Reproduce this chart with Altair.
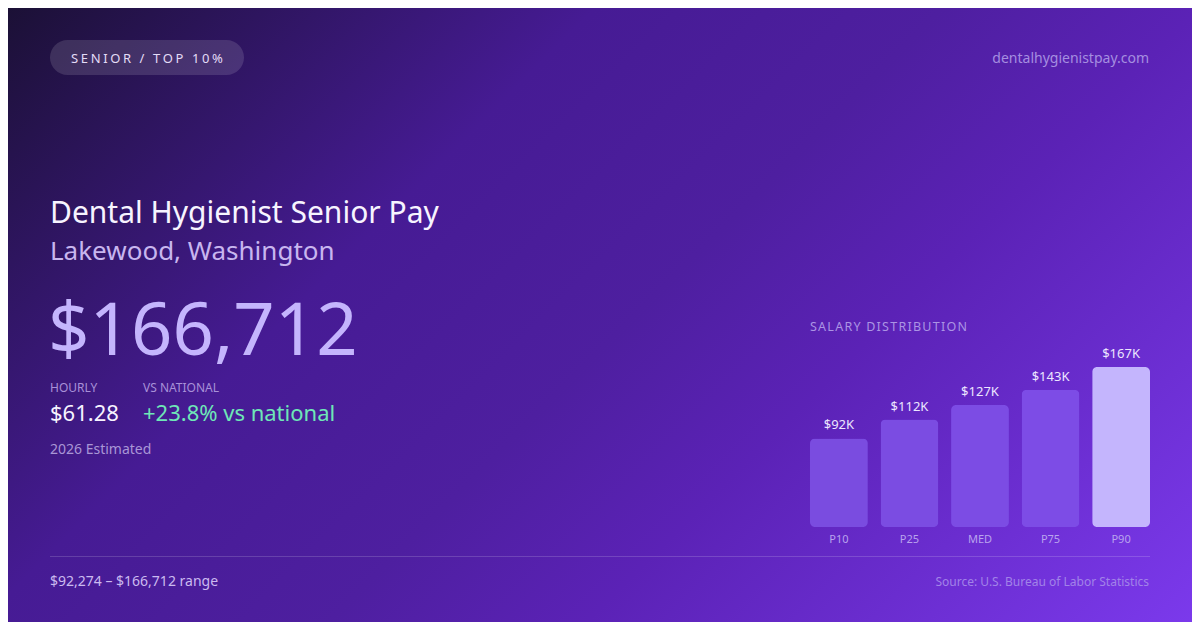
import altair as alt
import pandas as pd

# ---- data ----
percentiles = ["P10", "P25", "MED", "P75", "P90"]
salary_k = [92.274, 112, 127, 143, 166.712]
bar_labels = ["$92K", "$112K", "$127K", "$143K", "$167K"]

badge_text = "SENIOR / TOP 10%"
site_text = "dentalhygienistpay.com"
title_text = "Dental Hygienist Senior Pay"
location_text = "Lakewood, Washington"
headline_value = "$166,712"
hourly_label = "HOURLY"
hourly_value = "$61.28"
national_label = "VS NATIONAL"
national_value = "+23.8% vs national"
estimate_text = "2026 Estimated"
dist_title = "SALARY DISTRIBUTION"
range_text = "$92,274 \u2013 $166,712 range"
source_text = "Source: U.S. Bureau of Labor Statistics"

W, H = 1184, 614
OFF = 8  # page margin offset
FONT = "Noto Sans"


def spaced(s, sep="\u200a"):
    return sep.join(list(s))


one = pd.DataFrame({"k": [0]})
bars_df = pd.DataFrame({"pctl": percentiles, "salary": salary_k, "label": bar_labels})


def px(v):
    return v - OFF


def text_layer(txt, x, y, size, color, align="left", weight="normal", opacity=1.0):
    return alt.Chart(one).mark_text(
        text=txt, align=align, baseline="alphabetic", font=FONT, fontSize=size,
        fontWeight=weight, color=color, opacity=opacity,
    ).encode(x=alt.value(px(x)), y=alt.value(px(y)))


# diagonal (45 deg in pixel space) gradient over the full 1200x630 canvas
bg = alt.Chart(one).mark_rect(
    fill=alt.LinearGradient(
        gradient="linear",
        stops=[
            alt.GradientStop(color="#1a1033", offset=0),
            alt.GradientStop(color="#461b94", offset=0.33),
            alt.GradientStop(color="#4e1fa0", offset=0.52),
            alt.GradientStop(color="#5b22b6", offset=0.66),
            alt.GradientStop(color="#7c3aed", offset=1),
        ],
        x1=0, y1=0, x2=1.1955, y2=0.6276,
    )
).encode(x=alt.value(-OFF), x2=alt.value(W + OFF), y=alt.value(-OFF), y2=alt.value(H + OFF))

pill = alt.Chart(one).mark_rect(
    fill="#ffffff", fillOpacity=0.13, cornerRadius=17.5
).encode(x=alt.value(px(50)), x2=alt.value(px(244)), y=alt.value(px(40)), y2=alt.value(px(75)))

rule = alt.Chart(one).mark_rule(color="#ffffff", opacity=0.16, strokeWidth=1).encode(
    x=alt.value(px(50)), x2=alt.value(px(1150)), y=alt.value(px(556.5))
)

xscale = alt.Scale(domain=percentiles, range=[px(810), px(1150)], paddingInner=0.18, paddingOuter=0)
yscale = alt.Scale(domain=[0, 166.712], range=[px(527), px(367)], nice=False, zero=True)

bars = alt.Chart(bars_df).mark_bar(cornerRadius=5).encode(
    x=alt.X("pctl:N", scale=xscale, axis=None, sort=percentiles),
    y=alt.Y("salary:Q", scale=yscale, axis=None),
    y2=alt.value(px(527)),
    color=alt.Color("pctl:N", scale=alt.Scale(domain=percentiles,
                    range=["#7a4ce0", "#7b4ce2", "#7c4ce4", "#7d4ce6", "#c4b5fd"]), legend=None),
)

bar_text = alt.Chart(bars_df).mark_text(
    baseline="alphabetic", dy=-9, font=FONT, fontSize=13, color="#ece6ff"
).encode(
    x=alt.X("pctl:N", scale=xscale, axis=None, sort=percentiles, bandPosition=0.5),
    y=alt.Y("salary:Q", scale=yscale, axis=None),
    text="label:N",
)

cat_text = alt.Chart(bars_df).mark_text(
    baseline="alphabetic", font=FONT, fontSize=11, color="#b9a3ee"
).encode(
    x=alt.X("pctl:N", scale=xscale, axis=None, sort=percentiles, bandPosition=0.5),
    y=alt.value(px(543)),
    text="pctl:N",
)

layers = [
    bg, pill, rule,
    text_layer(spaced(badge_text, "\u200a\u200a"), 147, 63, 13, "#e4dcf7", align="center"),
    text_layer(site_text, 1149, 63, 14, "#a58ee0", align="right"),
    text_layer(title_text, 50, 223, 30, "#f7f4ff"),
    text_layer(location_text, 50, 260, 26, "#c8b6ef"),
    text_layer(headline_value, 48, 355, 72.5, "#c4b5fd"),
    text_layer(hourly_label, 50, 392, 12, "#a891d8"),
    text_layer(national_label, 143, 392, 12, "#a891d8"),
    text_layer(hourly_value, 50, 421, 22, "#f7f4ff"),
    text_layer(national_value, 143, 421, 22, "#6ee7b7"),
    text_layer(estimate_text, 50, 454, 14, "#a996d6"),
    text_layer(spaced(dist_title), 810, 331, 12.5, "#ab94e4"),
    bars, bar_text, cat_text,
    text_layer(range_text, 50, 586, 14, "#cbbaf0"),
    text_layer(source_text, 1149, 586, 12, "#a283e8", align="right"),
]

chart = alt.layer(*layers).properties(
    width=W, height=H, padding=0, autosize=alt.AutoSizeParams(type="none"),
    background="#4c1d95",
).configure_view(strokeWidth=0)

chart.save("out.html", embed_options={"renderer": "svg", "actions": False})
